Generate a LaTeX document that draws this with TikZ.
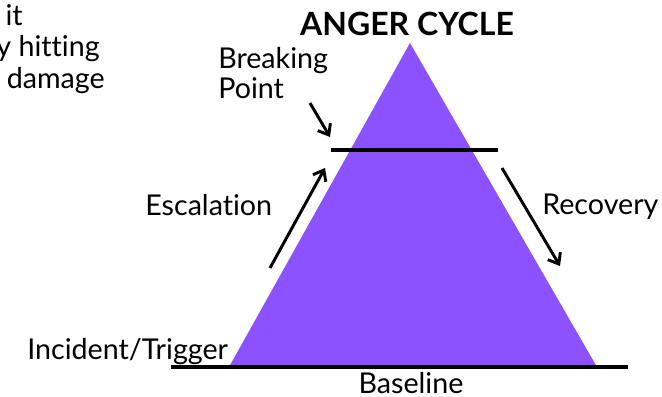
\documentclass[tikz,border=0pt]{standalone}
\usepackage{fontspec}
\setmainfont{Lato}[Ligatures=NoCommon]
\usetikzlibrary{arrows.meta}
\definecolor{angerpurple}{RGB}{140,82,255}
\tikzset{
  lbl/.style={font=\fontsize{21.5}{21.8}\selectfont,inner sep=0pt},
  bar/.style={line width=2.6pt},
  arr/.style={line width=2.2pt,-{Straight Barb[length=7pt,width=11pt,line width=2.2pt]}}
}
\begin{document}
\begin{tikzpicture}[x=0.75pt,y=-0.75pt]
  \useasboundingbox (0,0) rectangle (662,397);
  % triangle
  \coordinate (apex) at (410,43);
  \coordinate (bl) at (229,367);
  \coordinate (br) at (597,367);
  \fill[angerpurple] (apex) -- (bl) -- (br) -- cycle;
  % lines
  \coordinate (base-l) at (171,367);
  \coordinate (base-r) at (628,367);
  \draw[bar] (base-l) -- (base-r);
  \coordinate (top-l) at (331,150);
  \coordinate (top-r) at (498,150);
  \draw[bar] (top-l) -- (top-r);
  % labels
  \node[lbl,font=\fontsize{24}{24}\selectfont\bfseries,anchor=base] (title) at (407,35) {ANGER CYCLE};
  \node[lbl,anchor=base west,align=left] (brk) at (218,98) {Breaking\\Point};
  \node[lbl,anchor=base west] (esc) at (145,215) {Escalation};
  \node[lbl,anchor=base west] (rec) at (542,214) {Recovery};
  \node[lbl,anchor=base west] (inc) at (27,359) {Incident/Trigger};
  \node[lbl,anchor=base] (bas) at (411,393) {Baseline};
  \foreach \x/\y/\t in {23/25/it,100/56/y hitting,105/88/r damage}{
    \node[lbl,anchor=base east] at (\x,\y) {\t};
  }
  % arrows
  \coordinate (brk-s) at (310,103);
  \coordinate (brk-e) at (330,137);
  \draw[arr] (brk-s) -- (brk-e);
  \coordinate (esc-s) at (270,268);
  \coordinate (esc-e) at (325,168);
  \draw[arr] (esc-s) -- (esc-e);
  \coordinate (rec-s) at (502,168);
  \coordinate (rec-e) at (560,266);
  \draw[arr] (rec-s) -- (rec-e);
\end{tikzpicture}
\end{document}
